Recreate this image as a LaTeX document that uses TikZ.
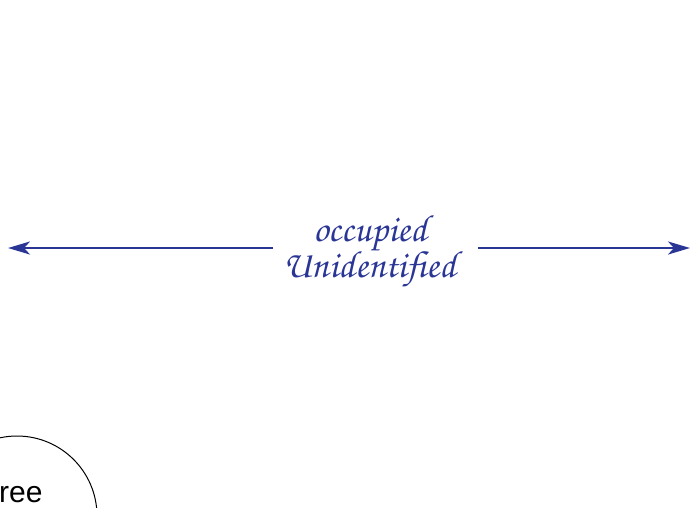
\documentclass[tikz,border=0pt]{standalone}
\usepackage{fontspec}
\setmainfont{Liberation Sans}
\newfontfamily\chorusfont{texgyrechorus-mediumitalic.otf}
\usetikzlibrary{arrows.meta}
\definecolor{lblue}{RGB}{42,54,150}
\tikzset{
  harrow/.style={draw=lblue, line width=2.6pt, -{Stealth[length=22pt,width=13pt,inset=6pt]}},
  lbl/.style={text=lblue, font=\chorusfont\fontsize{38}{34}\selectfont, align=center, inner sep=0pt},
}
\begin{document}
\begin{tikzpicture}[x=1pt,y=-1pt]
\useasboundingbox (0,0) rectangle (695,507);
\node[lbl] (lab) at (370,251) {occupied\\Unidentified};
\coordinate (lstart) at (273,248);
\coordinate (lend) at (8,248);
\coordinate (rstart) at (478,248);
\coordinate (rend) at (690,248);
\draw[harrow] (lstart) -- (lend);
\draw[harrow] (rstart) -- (rend);
\coordinate (cc) at (17,516);
\draw[black, line width=1pt] (cc) circle[radius=80];
\node[anchor=base west, inner sep=0pt, font=\fontsize{30}{36}\selectfont] (free) at (-1,502) {ree};
\end{tikzpicture}
\end{document}
